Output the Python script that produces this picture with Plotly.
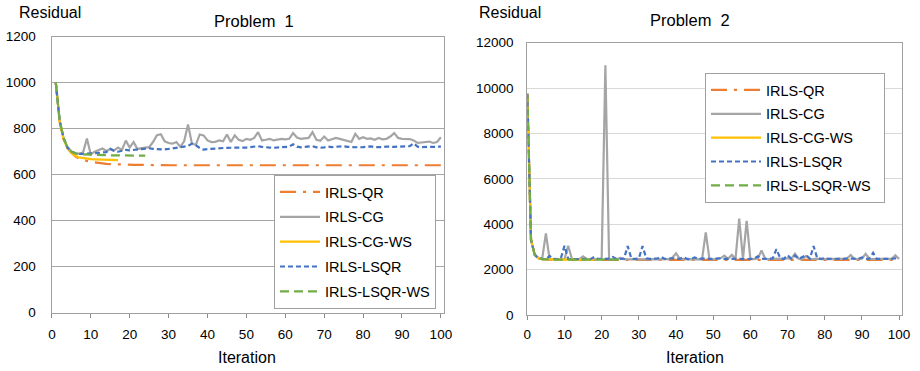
import plotly.graph_objects as go

# ---------------- data: Problem 1 (iterations 1..100) ----------------
it1 = list(range(1, 101))
p1_qr = [1000, 830, 755, 715, 695, 680, 670, 664, 660, 656,
         653, 650, 648, 647, 646, 645, 645, 644, 644, 643,
         643, 643, 642, 642, 642, 642, 642, 641, 641, 641,
         641, 641, 641, 641, 641, 641, 641, 641, 641, 641,
         641, 641, 641, 641, 641, 641, 641, 641, 641, 641,
         641, 641, 641, 641, 641, 641, 641, 641, 641, 641,
         641, 641, 641, 641, 641, 641, 641, 641, 641, 641,
         641, 641, 641, 641, 641, 641, 641, 641, 641, 641,
         641, 641, 641, 641, 641, 641, 641, 641, 641, 641,
         641, 641, 641, 641, 641, 641, 641, 641, 641, 641]
p1_cg = [1000, 835, 760, 720, 702, 694, 692, 696, 757, 688,
         700, 706, 714, 703, 712, 706, 718, 708, 748, 718,
         742, 712, 716, 718, 720, 742, 772, 776, 745, 738,
         735, 742, 722, 745, 818, 735, 730, 775, 771, 749,
         742, 743, 749, 745, 775, 742, 771, 752, 746, 756,
         752, 760, 785, 749, 752, 756, 749, 752, 756, 754,
         756, 781, 762, 756, 758, 760, 785, 752, 748, 766,
         749, 755, 760, 756, 752, 749, 742, 778, 756, 763,
         756, 758, 752, 760, 754, 756, 766, 781, 760, 756,
         756, 755, 749, 738, 740, 742, 744, 738, 742, 763]
p1_cgws = [1000, 830, 755, 715, 695, 682, 675, 672, 670, 668,
           667, 666, 665, 664, 664, 663, 663]
p1_lsqr = [1000, 835, 760, 718, 700, 693, 690, 690, 692, 690,
           693, 695, 697, 698, 712, 703, 700, 704, 708, 706,
           708, 710, 712, 714, 715, 712, 711, 710, 710, 712,
           715, 718, 720, 722, 725, 735, 728, 716, 709, 711,
           713, 714, 716, 716, 717, 718, 717, 719, 718, 718,
           720, 721, 724, 721, 718, 718, 717, 719, 720, 721,
           722, 732, 722, 719, 720, 722, 724, 719, 717, 719,
           722, 720, 721, 722, 724, 721, 720, 718, 719, 720,
           721, 723, 720, 719, 720, 722, 720, 721, 722, 723,
           723, 724, 736, 722, 720, 720, 721, 722, 721, 722]
p1_lsqrws = [1000, 835, 760, 718, 700, 692, 689, 688, 687, 686,
             686, 685, 685, 685, 684, 684, 684, 684, 684, 683,
             683, 683, 683, 683]

# ---------------- data: Problem 2 (iterations 0..100) ----------------
it2 = list(range(0, 101))
p2_qr = [9750, 3300, 2650, 2500, 2460, 2440, 2435, 2430, 2430, 2430,
         2430, 2430, 2430, 2430, 2430, 2430, 2430, 2430, 2430, 2430,
         2430, 2430, 2430, 2430, 2430, 2430, 2430, 2430, 2430, 2430,
         2430, 2430, 2430, 2430, 2430, 2430, 2430, 2430, 2430, 2430,
         2430, 2430, 2430, 2430, 2430, 2430, 2430, 2430, 2430, 2430,
         2430, 2430, 2430, 2430, 2430, 2430, 2430, 2430, 2430, 2430,
         2430, 2430, 2430, 2430, 2430, 2430, 2430, 2430, 2430, 2430,
         2430, 2430, 2430, 2430, 2430, 2430, 2430, 2430, 2430, 2430,
         2430, 2430, 2430, 2430, 2430, 2430, 2430, 2430, 2430, 2430,
         2430, 2430, 2430, 2430, 2430, 2430, 2430, 2430, 2430, 2430,
         2430]
p2_cg = [9750, 3300, 2660, 2510, 2470, 3600, 2460, 2450, 2460, 2450,
         2460, 3050, 2470, 2460, 2460, 2580, 2460, 2450, 2460, 2450,
         2460, 11000, 2460, 2450, 2460, 2520, 2460, 2450, 2460, 2450,
         2460, 2450, 2460, 2450, 2460, 2450, 2460, 2470, 2460, 2520,
         2720, 2480, 2460, 2450, 2460, 2450, 2460, 2450, 3640, 2460,
         2450, 2460, 2500, 2620, 2480, 2650, 2480, 4250, 2460, 4150,
         2470, 2460, 2500, 2840, 2480, 2460, 2470, 2460, 2480, 2460,
         2500, 2470, 2700, 2470, 2460, 2600, 2470, 2460, 2480, 2460,
         2470, 2460, 2470, 2460, 2480, 2460, 2500, 2640, 2470, 2460,
         2480, 2700, 2480, 2460, 2470, 2460, 2480, 2470, 2480, 2630,
         2470]
p2_cgws = [9750, 3300, 2650, 2500, 2460, 2450, 2445, 2445, 2440, 2440,
           2440, 2440, 2440, 2440, 2440, 2440, 2440, 2440, 2440]
p2_lsqr = [9750, 3300, 2650, 2500, 2470, 2460, 2600, 2470, 2460, 2480,
           3050, 2470, 2460, 2470, 2460, 2480, 2470, 2460, 2560, 2470,
           2460, 2470, 2480, 2560, 2470, 2460, 2480, 3040, 2480, 2470,
           2490, 3040, 2500, 2470, 2480, 2490, 2560, 2470, 2480, 2500,
           2480, 2470, 2550, 2470, 2460, 2540, 2470, 2480, 2500, 2470,
           2480, 2470, 2500, 2470, 2480, 2470, 2490, 2480, 2460, 2470,
           2480, 2480, 2590, 2480, 2470, 2480, 2490, 2900, 2520, 2470,
           2640, 2480, 2620, 2470, 2560, 2640, 2480, 3040, 2490, 2470,
           2500, 2470, 2480, 2470, 2480, 2470, 2490, 2470, 2480, 2470,
           2540, 2470, 2480, 2740, 2470, 2480, 2470, 2490, 2470, 2500,
           2470]
p2_lsqrws = [9750, 3300, 2650, 2500, 2465, 2450, 2445, 2445, 2440, 2440,
             2440, 2440, 2440, 2440, 2440, 2440, 2440, 2440, 2440, 2440,
             2440, 2440, 2440, 2440, 2440, 2440]

names = ["IRLS-QR", "IRLS-CG", "IRLS-CG-WS", "IRLS-LSQR", "IRLS-LSQR-WS"]
x_ticks = [0, 10, 20, 30, 40, 50, 60, 70, 80, 90, 100]

# ---------------- styling ----------------
FONT = "Liberation Sans, Arial, sans-serif"
colors = ["#ED7D31", "#A5A5A5", "#FFC000", "#4472C4", "#70AD47"]
dashes = ["16px,7px,3px,7px", "solid", "solid", "5px,3px", "9px,5px"]
W = 920
H = 371

fig = go.Figure()

series1 = [p1_qr, p1_cg, p1_cgws, p1_lsqr, p1_lsqrws]
series2 = [p2_qr, p2_cg, p2_cgws, p2_lsqr, p2_lsqrws]

for i, (nm, ys) in enumerate(zip(names, series1)):
    fig.add_trace(go.Scatter(
        x=it1[:len(ys)], y=ys, name=nm, mode="lines",
        line=dict(color=colors[i], width=2.2, dash=dashes[i]),
        xaxis="x", yaxis="y", legend="legend", legendgroup="a" + str(i)))
for i, (nm, ys) in enumerate(zip(names, series2)):
    label_txt = nm + ("\u00a0\u00a0" if nm == "IRLS-LSQR-WS" else "")
    fig.add_trace(go.Scatter(
        x=it2[:len(ys)], y=ys, name=label_txt, mode="lines",
        line=dict(color=colors[i], width=2.2, dash=dashes[i]),
        xaxis="x2", yaxis="y2", legend="legend2", legendgroup="b" + str(i)))

def px_x(p):
    return p / W

def px_y(p):
    return 1 - p / H

axis_font = dict(family=FONT, size=13.5, color="#000000")

fig.update_layout(
    width=W, height=H,
    margin=dict(l=0, r=0, t=0, b=0),
    paper_bgcolor="white", plot_bgcolor="white",
    font=dict(family=FONT, color="#000000"),
    xaxis=dict(domain=[px_x(51.5), px_x(444)], range=[-0.1, 100.8],
               tickmode="array", tickvals=x_ticks, ticks="outside", ticklen=4,
               tickcolor="#8C8C8C", showgrid=False, zeroline=False,
               showline=True, linecolor="#A0A0A0", linewidth=1, mirror=True,
               tickfont=axis_font, ticklabelstandoff=5, anchor="y",
               automargin=False),
    yaxis=dict(domain=[px_y(312.7), px_y(36.7)], range=[0, 1200], dtick=200,
               showgrid=True, gridcolor="#A6A6A6", gridwidth=1, zeroline=False,
               showline=True, linecolor="#A0A0A0", linewidth=1, mirror=True,
               ticks="", tickfont=axis_font, ticklabelstandoff=12, anchor="x",
               tickformat="d", automargin=False),
    xaxis2=dict(domain=[px_x(527.3), px_x(901.7)], range=[0, 100.7],
                tickmode="array", tickvals=x_ticks, ticks="outside", ticklen=4,
                tickcolor="#8C8C8C", showgrid=False, zeroline=False,
                showline=True, linecolor="#A0A0A0", linewidth=1, mirror=True,
                tickfont=axis_font, ticklabelstandoff=3, anchor="y2",
                automargin=False),
    yaxis2=dict(domain=[px_y(315), px_y(42.7)], range=[0, 12000], dtick=2000,
                showgrid=True, gridcolor="#D9D9D9", gridwidth=1, zeroline=False,
                showline=True, linecolor="#A0A0A0", linewidth=1, mirror=True,
                ticks="", tickfont=axis_font, ticklabelstandoff=10, anchor="x2",
                tickformat="d", automargin=False),
    legend=dict(x=px_x(274), y=px_y(175), xanchor="left", yanchor="top",
                bordercolor="#A0A0A0", borderwidth=1, bgcolor="white",
                font=dict(family=FONT, size=14.5, color="#000000"),
                itemwidth=40, tracegroupgap=3, traceorder="grouped"),
    legend2=dict(x=px_x(705), y=px_y(73), xanchor="left", yanchor="top",
                 bordercolor="#A0A0A0", borderwidth=1, bgcolor="white",
                 font=dict(family=FONT, size=14.5, color="#000000"),
                 itemwidth=50, tracegroupgap=2, traceorder="grouped"),
)

def label(text, cx, cy, size):
    fig.add_annotation(text=text, x=px_x(cx), y=px_y(cy), xref="paper", yref="paper",
                       xanchor="center", yanchor="middle", showarrow=False,
                       font=dict(family=FONT, size=size, color="#000000"))

label("Residual", 50, 12, 16)
label("Problem&nbsp;&nbsp;1", 254, 21, 16.5)
label("Iteration", 247, 357, 16)
label("Residual", 510, 12, 16)
label("Problem&nbsp;&nbsp;2", 690, 20, 16.5)
label("Iteration", 695, 357, 16)

# the page's default 8px body margin would push the 920x371 figure off-window
fig.write_html("out.html", config={"displayModeBar": False},
               post_script="document.body.style.margin='0px';")
